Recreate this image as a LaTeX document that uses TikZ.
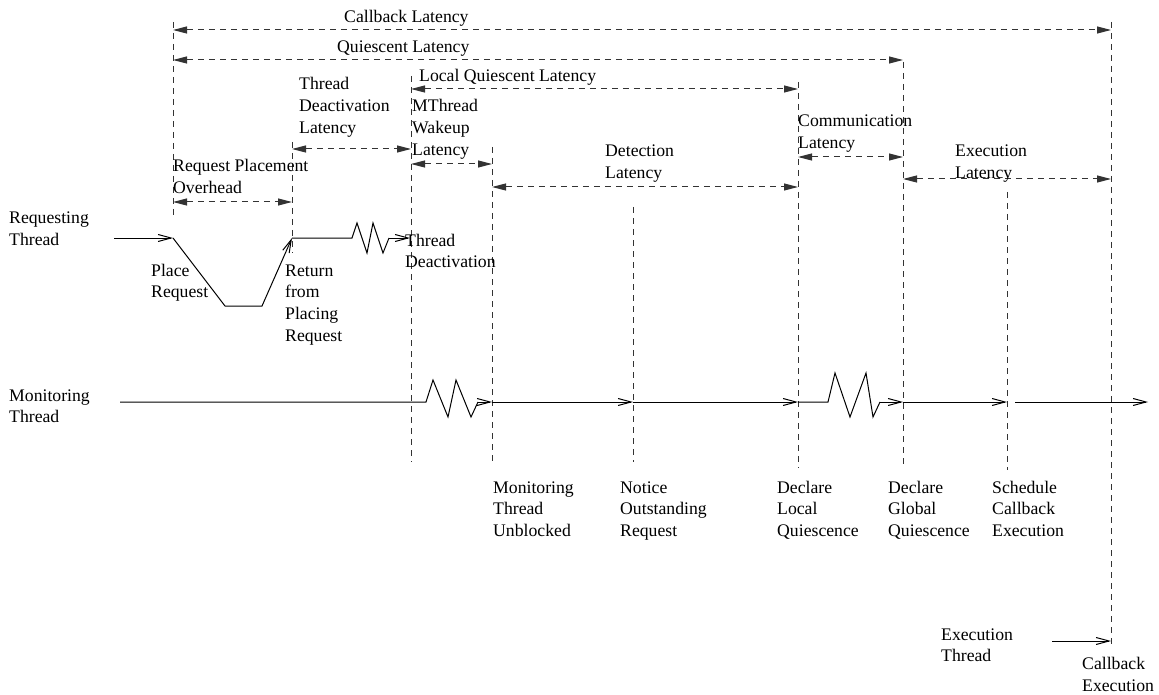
\documentclass[tikz,border=0pt]{standalone}
\usepackage{fontspec}
\setmainfont{Liberation Serif}
\usetikzlibrary{arrows.meta}
\begin{document}
\begin{tikzpicture}[x=1pt,y=-1pt,
  % labels are placed by the baseline of their last line
  lbl/.style={anchor=base west,inner sep=0pt,align=left,
    font=\fontsize{17.7}{21.7}\selectfont},
  marker/.style={draw=black!80,line width=1pt,dash pattern=on 6pt off 5pt},
  span/.style={draw=black!80,line width=1pt,dash pattern=on 6pt off 5pt,
    {Triangle[length=14pt,width=7pt]}-{Triangle[length=14pt,width=7pt]}},
  flow/.style={draw=black,line width=1pt,line join=miter},
  flowarrow/.style={flow,-{Straight Barb[length=13pt,width=7pt]}}]
\useasboundingbox (0,0) rectangle (1159,695);

% event markers: top and bottom ends of the dashed verticals
\coordinate (m1t) at (173,22);   \coordinate (m1b) at (173,218);
\coordinate (m2t) at (292,142);  \coordinate (m2b) at (292,253);
\coordinate (m3t) at (411,76);   \coordinate (m3b) at (411,462);
\coordinate (m4t) at (492,147);  \coordinate (m4b) at (492,462);
\coordinate (m5t) at (633,207);  \coordinate (m5b) at (633,462);
\coordinate (m6t) at (798,82);   \coordinate (m6b) at (798,468);
\coordinate (m7t) at (903,62);   \coordinate (m7b) at (903,468);
\coordinate (m8t) at (1007,192); \coordinate (m8b) at (1007,470);
\coordinate (m9t) at (1111,22);  \coordinate (m9b) at (1111,647);
\foreach \i in {1,...,9} \draw[marker] (m\i t) -- (m\i b);

% latency spans
\draw[span] (m1t |- 0,30)  -- (m9t |- 0,30);
\draw[span] (m1t |- 0,60)  -- (m7t |- 0,60);
\draw[span] (m3t |- 0,89)  -- (m6t |- 0,89);
\draw[span] (m2t |- 0,149) -- (m3t |- 0,149);
\draw[span] (m3t |- 0,164) -- (m4t |- 0,164);
\draw[span] (m1t |- 0,202) -- (m2t |- 0,202);
\draw[span] (m4t |- 0,187) -- (m6t |- 0,187);
\draw[span] (m6t |- 0,157) -- (m7t |- 0,157);
\draw[span] (m7t |- 0,179) -- (m9t |- 0,179);

\node[lbl] (lcb)  at (344,23)    {Callback Latency};
\node[lbl] (lq)   at (337,53)    {Quiescent Latency};
\node[lbl] (llq)  at (419,82)    {Local Quiescent Latency};
\node[lbl] (ltd)  at (299,133.4) {Thread\\Deactivation\\Latency};
\node[lbl] (lmw)  at (412,155.4) {MThread\\Wakeup\\Latency};
\node[lbl] (lrp)  at (173,193.7) {Request Placement\\Overhead};
\node[lbl] (ldet) at (605,178.7) {Detection\\Latency};
\node[lbl] (lcom) at (798,148.7) {Communication\\Latency};
\node[lbl] (lexe) at (955,178.7) {Execution\\Latency};

% requesting thread
\node[lbl] (rt) at (9,245.7) {Requesting\\Thread};
\coordinate (r0) at (114,238);
\coordinate (r1) at (173,238);
\coordinate (r2) at (292,238);
\coordinate (r3) at (352,238);
\coordinate (r4) at (389,238);
\coordinate (r5) at (410,238);
\draw[flowarrow] (r0) -- (r1);
\draw[flowarrow] (r1) -- (225,306) -- (262,306) -- (r2);
\draw[flow] (r2) -- (r3) -- (357,223) -- (367,253) -- (373,223) -- (383,253) -- (r4);
\draw[flowarrow] (r4) -- (r5);
\node[lbl] (lpr)  at (151,297.7) {Place\\Request};
\node[lbl] (lret) at (285,341.1) {Return\\from\\Placing\\Request};
\node[lbl] (ltdv) at (405,267.7) {Thread\\Deactivation};

% monitoring thread
\node[lbl] (mt) at (9,422.7) {Monitoring\\Thread};
\coordinate (w0) at (120,402);
\coordinate (w1) at (426,402);
\coordinate (w2) at (478,402);
\coordinate (w3) at (492,402);
\coordinate (w4) at (633,402);
\coordinate (w5) at (798,402);
\coordinate (w6) at (828,402);
\coordinate (w7) at (880,402);
\coordinate (w8) at (903,402);
\coordinate (w9) at (1007,402);
\coordinate (w10) at (1015,402);
\coordinate (w11) at (1148,402);
\draw[flow] (w0) -- (w1) -- (433,380) -- (448,417) -- (456,380) -- (471,417) -- (w2);
\draw[flowarrow] (w2) -- (w3);
\draw[flowarrow] (w3) -- (w4);
\draw[flowarrow] (w4) -- (w5);
\draw[flow] (w5) -- (w6) -- (835,373) -- (850,417) -- (866,373) -- (873,417) -- (w7);
\draw[flowarrow] (w7) -- (w8);
\draw[flowarrow] (w8) -- (w9);
\draw[flowarrow] (w10) -- (w11);

\node[lbl] (e1) at (493,536.4) {Monitoring\\Thread\\Unblocked};
\node[lbl] (e2) at (620,536.4) {Notice\\Outstanding\\Request};
\node[lbl] (e3) at (777,536.4) {Declare\\Local\\Quiescence};
\node[lbl] (e4) at (888,536.4) {Declare\\Global\\Quiescence};
\node[lbl] (e5) at (992,536.4) {Schedule\\Callback\\Execution};

% execution thread
\node[lbl] (et) at (941,661.7) {Execution\\Thread};
\coordinate (x0) at (1052,641);
\coordinate (x1) at (1111,641);
\draw[flowarrow] (x0) -- (x1);
\node[lbl] (e6) at (1082,691.5) {Callback\\Execution};
\end{tikzpicture}
\end{document}
